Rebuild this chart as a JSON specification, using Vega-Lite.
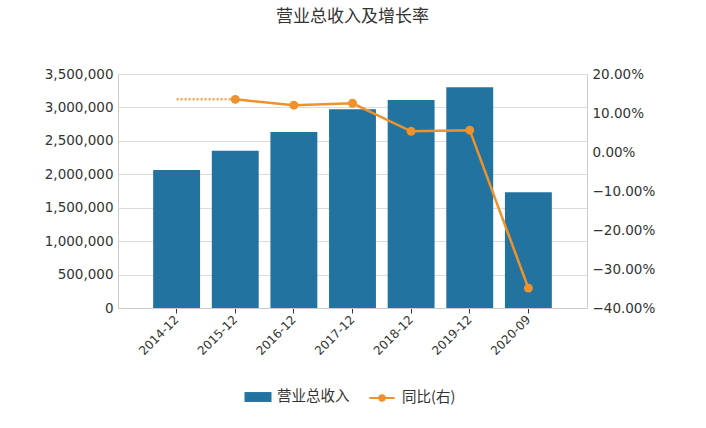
{
  "$schema": "https://vega.github.io/schema/vega-lite/v6.json",
  "description": "营业总收入及增长率",
  "width": 469,
  "height": 234,
  "autosize": "none",
  "padding": {"left": 118, "top": 74, "right": 119, "bottom": 120},
  "background": "white",
  "title": {
    "text": "营业总收入及增长率",
    "font": "Noto Sans CJK SC",
    "fontSize": 17,
    "fontWeight": "normal",
    "color": "#333333",
    "anchor": "middle",
    "offset": 41
  },
  "data": {
    "values": [
      {"period": "2014-12", "revenue": 2064000, "yoy": null, "yoy_dash": 0.135},
      {"period": "2015-12", "revenue": 2353000, "yoy": 0.135, "yoy_dash": 0.135},
      {"period": "2016-12", "revenue": 2632000, "yoy": 0.12, "yoy_dash": null},
      {"period": "2017-12", "revenue": 2972000, "yoy": 0.125, "yoy_dash": null},
      {"period": "2018-12", "revenue": 3111000, "yoy": 0.053, "yoy_dash": null},
      {"period": "2019-12", "revenue": 3301000, "yoy": 0.056, "yoy_dash": null},
      {"period": "2020-09", "revenue": 1731000, "yoy": -0.349, "yoy_dash": null}
    ]
  },
  "encoding": {
    "x": {
      "field": "period",
      "type": "ordinal",
      "sort": null,
      "scale": {"paddingInner": 0.2, "paddingOuter": 0.6},
      "axis": {
        "title": null,
        "labelAngle": -45,
        "labelAlign": "right",
        "labelBaseline": "middle",
        "labelFont": "DejaVu Sans",
        "labelFontSize": 12,
        "labelColor": "#333333",
        "labelPadding": 4,
        "tickSize": 5,
        "tickColor": "#333333",
        "domainColor": "#cccccc"
      }
    }
  },
  "layer": [
    {
      "mark": {"type": "bar"},
      "encoding": {
        "y": {
          "field": "revenue",
          "type": "quantitative",
          "scale": {"domain": [0, 3500000]},
          "axis": {
            "title": null,
            "values": [0, 500000, 1000000, 1500000, 2000000, 2500000, 3000000, 3500000],
            "format": ",.0f",
            "labelFont": "DejaVu Sans",
            "labelFontSize": 13.5,
            "labelColor": "#333333",
            "labelPadding": 5,
            "ticks": false,
            "domainColor": "#cccccc",
            "grid": true,
            "gridColor": "#dcdcdc"
          }
        },
        "fill": {
          "datum": "营业总收入",
          "type": "nominal",
          "scale": {"range": ["#22739f"]},
          "legend": {
            "title": null,
            "orient": "bottom",
            "offset": 31,
            "symbolType": "M-1.5,-0.55H1.5V0.55H-1.5Z",
            "symbolSize": 324,
            "symbolStrokeWidth": 0,
            "labelFont": "Noto Sans CJK SC",
            "labelFontSize": 14.5,
            "labelColor": "#333333",
            "labelOffset": 10
          }
        }
      }
    },
    {
      "encoding": {
        "y": {
          "type": "quantitative",
          "scale": {"domain": [-0.4, 0.2]},
          "axis": {
            "orient": "right",
            "title": null,
            "values": [-0.4, -0.3, -0.2, -0.1, 0, 0.1, 0.2],
            "format": ".2%",
            "labelFont": "DejaVu Sans",
            "labelFontSize": 13.5,
            "labelColor": "#333333",
            "labelPadding": 5,
            "ticks": false,
            "domainColor": "#cccccc",
            "grid": false
          }
        }
      },
      "layer": [
        {
          "mark": {"type": "line", "color": "#f5a54f", "strokeWidth": 2.5, "strokeDash": [2, 2]},
          "encoding": {"y": {"field": "yoy_dash"}}
        },
        {
          "mark": {"type": "line", "strokeWidth": 2.5},
          "encoding": {
            "y": {"field": "yoy"},
            "stroke": {
              "datum": "同比(右)",
              "type": "nominal",
              "scale": {"range": ["#f0922b"]},
              "legend": {
                "title": null,
                "orient": "bottom",
                "offset": 31,
                "symbolType": "M-1.4,0H1.4M0.3,0A0.3,0.3 0 1,1 -0.3,0A0.3,0.3 0 1,1 0.3,0Z",
                "symbolSize": 324,
                "symbolStrokeWidth": 2,
                "symbolFillColor": "#f0922b",
                "labelFont": "Noto Sans CJK SC",
                "labelFontSize": 14.5,
                "labelColor": "#333333",
                "labelOffset": 10
              }
            }
          }
        },
        {
          "mark": {"type": "point", "filled": true, "color": "#f0922b", "size": 80, "opacity": 1},
          "encoding": {"y": {"field": "yoy"}}
        }
      ]
    }
  ],
  "resolve": {"scale": {"y": "independent"}},
  "config": {
    "view": {"stroke": null},
    "legend": {"layout": {"bottom": {"anchor": "middle", "direction": "horizontal", "margin": 22}}}
  }
}
